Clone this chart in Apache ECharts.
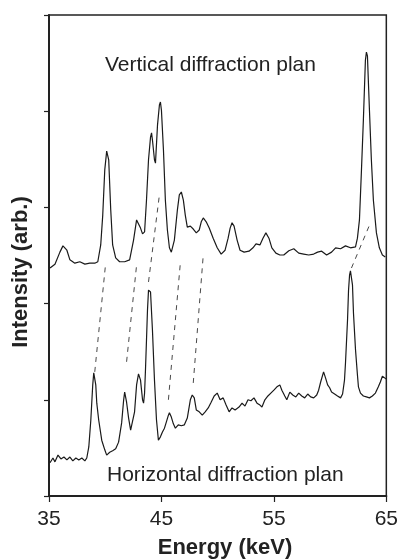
<!DOCTYPE html>
<html>
<head>
<meta charset="utf-8">
<script src="https://cdn.jsdelivr.net/npm/echarts@6/dist/echarts.min.js"></script>
<style>
html,body{margin:0;padding:0;background:#fff;}
#chart{width:401px;height:559px;}
</style>
</head>
<body>
<div id="chart"></div>
<script>
// Energy (keV) and intensity (arb., 0-100 scale)
var verticalEnergy = [35.09,35.53,35.97,36.24,36.59,36.86,37.30,37.74,38.19,38.63,39.07,39.34,39.60,39.78,39.96,40.13,40.31,40.49,40.66,40.93,41.28,41.73,42.17,42.52,42.79,42.96,43.14,43.32,43.50,43.67,43.85,44.03,44.12,44.20,44.38,44.47,44.65,44.82,44.91,45.00,45.18,45.35,45.53,45.71,45.88,46.15,46.42,46.59,46.77,46.95,47.12,47.30,47.57,47.83,48.10,48.36,48.54,48.72,48.98,49.25,49.60,49.96,50.31,50.66,50.93,51.11,51.28,51.46,51.73,51.99,52.35,52.79,53.14,53.41,53.76,54.03,54.29,54.56,54.82,55.18,55.53,55.88,56.33,56.77,57.21,57.65,58.10,58.54,58.89,59.25,59.69,60.13,60.49,60.93,61.37,61.81,62.26,62.43,62.61,62.79,62.96,63.14,63.23,63.32,63.50,63.67,63.85,64.12,64.38,64.65,64.91];
var verticalIntensity = [47.4,48.2,50.7,52.0,51.1,49.1,48.4,48.7,48.2,48.4,48.4,48.7,52.2,58.4,67.8,71.7,69.9,59.5,52.2,49.5,48.7,48.7,49.1,53.2,57.4,57.8,55.7,54.5,54.9,61.5,69.9,74.6,75.5,74.0,69.9,69.2,77.1,81.3,81.9,80.2,71.9,61.5,55.3,51.6,50.7,53.2,59.5,62.6,63.2,61.5,58.4,55.9,56.1,55.5,54.7,55.3,57.0,57.8,57.0,55.7,53.6,51.6,50.3,51.1,53.6,55.7,56.8,56.1,53.2,51.1,50.7,50.9,51.6,52.4,52.2,53.6,54.7,53.6,51.6,50.5,50.1,50.1,51.0,51.4,50.5,50.3,50.1,50.3,50.7,50.9,50.1,50.7,51.6,51.4,52.0,51.6,51.8,53.6,57.4,67.8,78.2,90.6,92.3,91.5,80.2,69.9,61.5,54.7,51.6,50.1,49.7];

var horizontalEnergy = [35.09,35.35,35.53,35.80,36.06,36.33,36.59,36.86,37.12,37.39,37.65,37.92,38.19,38.36,38.54,38.72,38.89,38.98,39.07,39.16,39.25,39.42,39.69,39.96,40.13,40.40,40.66,40.93,41.19,41.46,41.64,41.73,41.90,42.08,42.26,42.43,42.61,42.79,42.96,43.14,43.23,43.32,43.41,43.50,43.58,43.67,43.76,43.85,43.94,44.03,44.20,44.38,44.56,44.73,44.91,45.09,45.27,45.44,45.62,45.71,45.88,46.06,46.24,46.50,46.77,47.04,47.30,47.57,47.74,47.92,48.10,48.36,48.63,48.89,49.16,49.42,49.69,49.96,50.22,50.49,50.75,51.02,51.28,51.55,51.90,52.17,52.43,52.70,52.96,53.23,53.50,53.76,53.94,54.20,54.47,54.73,55.00,55.27,55.53,55.71,55.97,56.15,56.42,56.68,56.95,57.21,57.48,57.74,58.01,58.27,58.54,58.81,58.98,59.16,59.42,59.60,59.78,59.96,60.13,60.40,60.66,60.93,61.11,61.28,61.37,61.55,61.64,61.73,61.81,61.90,61.99,62.08,62.26,62.43,62.52,62.70,62.96,63.23,63.50,63.76,64.03,64.29,64.47,64.65,64.82,65.00];
var horizontalIntensity = [6.9,7.9,7.1,8.5,7.7,8.1,7.5,8.1,7.3,7.9,7.5,7.9,7.3,7.9,10.2,15.8,23.1,25.6,25.2,23.1,19.3,15.8,11.6,9.6,8.5,9.1,9.4,9.8,11.2,15.2,20.0,21.6,19.5,16.2,13.7,14.1,17.5,23.1,25.4,24.1,22.0,20.0,19.3,21.4,26.2,32.4,38.7,42.8,43.2,42.4,34.5,24.1,15.8,11.6,12.3,13.3,14.1,15.4,16.8,17.3,16.4,15.0,14.1,14.8,14.6,14.8,16.2,20.0,21.0,20.4,17.9,17.5,16.8,17.5,18.3,19.5,20.8,21.4,20.0,20.4,18.9,17.5,18.3,17.9,18.5,19.3,18.7,20.0,19.8,20.4,19.3,18.9,18.5,20.0,20.8,21.4,22.0,22.7,23.1,22.0,20.8,20.0,21.6,21.0,20.6,21.4,20.8,20.4,21.2,20.6,20.4,21.0,22.0,23.7,25.8,24.5,23.1,22.5,21.6,21.2,20.8,20.4,21.2,24.1,27.7,36.6,42.8,45.9,46.8,46.6,43.9,38.0,30.4,25.2,22.7,21.4,20.8,20.6,20.4,20.8,21.4,22.7,23.7,24.9,24.5,24.3];

// Dashed guide lines linking matching peaks of the two spectra
var guideStartEnergy = [39.07, 41.90, 43.85, 45.62, 47.83, 61.90];
var guideStartIntensity = [25.8, 27.9, 44.5, 20.0, 23.5, 47.4];
var guideEndEnergy = [40.04, 42.79, 44.82, 46.68, 48.72, 63.50];
var guideEndIntensity = [48.4, 48.0, 62.6, 48.4, 50.1, 56.3];

var xTicks = [35, 45, 55, 65];

function pairs(xs, ys) {
  var out = [];
  for (var i = 0; i < xs.length; i++) out.push([xs[i], ys[i]]);
  return out;
}

var series = [
  {
    type: 'line', data: pairs(verticalEnergy, verticalIntensity),
    showSymbol: false, lineStyle: {color: '#1a1a1a', width: 1.2}, silent: true, z: 3
  },
  {
    type: 'line', data: pairs(horizontalEnergy, horizontalIntensity),
    showSymbol: false, lineStyle: {color: '#1a1a1a', width: 1.2}, silent: true, z: 3
  }
];
for (var g = 0; g < guideStartEnergy.length; g++) {
  series.push({
    type: 'line',
    data: [[guideStartEnergy[g], guideStartIntensity[g]], [guideEndEnergy[g], guideEndIntensity[g]]],
    showSymbol: false, silent: true, z: 2,
    lineStyle: {color: '#333', width: 0.9, type: [5, 5]}
  });
}

var FONT = '"Liberation Sans", Arial, sans-serif';
var chart = echarts.init(document.getElementById('chart'), null, {renderer: 'canvas'});
chart.setOption({
  animation: false,
  backgroundColor: '#fff',
  grid: {left: 49, right: 13, top: 15, bottom: 63, show: true, borderColor: '#222', borderWidth: 1.5, backgroundColor: 'transparent'},
  xAxis: {
    type: 'value', min: 35, max: 65, interval: 10,
    axisLine: {show: true, lineStyle: {color: '#222', width: 2}},
    axisTick: {show: true, inside: false, length: 6, lineStyle: {color: '#222', width: 1.2}},
    axisLabel: {show: true, margin: 13, fontFamily: FONT, fontSize: 21, color: '#222',
      formatter: function (v) { return xTicks.indexOf(v) >= 0 ? String(v) : ''; }},
    splitLine: {show: false}
  },
  yAxis: {
    type: 'value', min: 0, max: 100, interval: 20,
    axisLine: {show: true, lineStyle: {color: '#222', width: 2}},
    axisTick: {show: true, inside: false, length: 5, lineStyle: {color: '#222', width: 1.2}},
    axisLabel: {show: false},
    splitLine: {show: false}
  },
  graphic: [
    {type: 'text', left: 105, top: 55, style: {text: 'Vertical diffraction plan', font: '21px ' + FONT, fill: '#222'}},
    {type: 'text', left: 107, top: 465, style: {text: 'Horizontal diffraction plan', font: '21px ' + FONT, fill: '#222'}},
    {type: 'text', x: 225, y: 548, style: {text: 'Energy (keV)', font: 'bold 22px ' + FONT, fill: '#222', align: 'center', verticalAlign: 'middle'}},
    {type: 'text', x: 21, y: 272, rotation: Math.PI / 2, style: {text: 'Intensity (arb.)', font: 'bold 22px ' + FONT, fill: '#222', align: 'center', verticalAlign: 'middle'}}
  ],
  series: series
});
</script>
</body>
</html>
